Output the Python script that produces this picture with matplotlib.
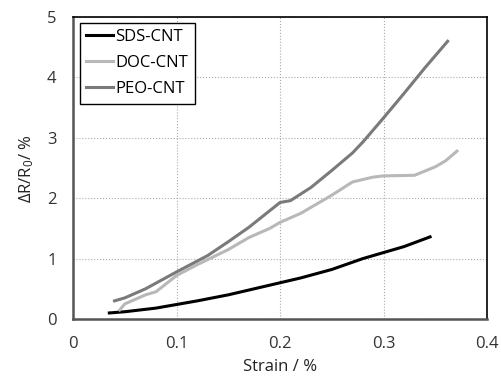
import matplotlib
matplotlib.use("Agg")
import matplotlib.pyplot as plt

plt.rcParams['font.family'] = ['Open Sans', 'DejaVu Sans']
plt.rcParams['mathtext.fontset'] = 'custom'
plt.rcParams['mathtext.rm'] = 'Open Sans'
plt.rcParams['mathtext.it'] = 'Open Sans'

sds_x = [0.035, 0.05, 0.08, 0.10, 0.12, 0.15, 0.18, 0.20, 0.22, 0.25, 0.28, 0.30, 0.32, 0.345]
sds_y = [0.10, 0.12, 0.18, 0.24, 0.30, 0.40, 0.52, 0.60, 0.68, 0.82, 1.00, 1.10, 1.20, 1.36]

doc_x = [0.045, 0.05, 0.07, 0.08, 0.10, 0.12, 0.15, 0.17, 0.19, 0.20, 0.22, 0.25, 0.27, 0.29, 0.30, 0.33, 0.35, 0.36, 0.371]
doc_y = [0.15, 0.25, 0.40, 0.45, 0.72, 0.90, 1.15, 1.35, 1.50, 1.60, 1.75, 2.05, 2.27, 2.35, 2.37, 2.38, 2.52, 2.62, 2.78]

peo_x = [0.04, 0.05, 0.07, 0.10, 0.13, 0.15, 0.17, 0.20, 0.21, 0.23, 0.25, 0.27, 0.28, 0.30, 0.32, 0.34, 0.362]
peo_y = [0.30, 0.35, 0.50, 0.78, 1.05, 1.28, 1.52, 1.93, 1.96, 2.18, 2.46, 2.75, 2.93, 3.33, 3.74, 4.16, 4.60]

xticks = [0, 0.1, 0.2, 0.3, 0.4]
yticks = [0, 1, 2, 3, 4, 5]

fig = plt.figure(figsize=(5.01, 3.89), dpi=100)
ax = fig.add_axes([0.146, 0.18, 0.826, 0.776])

ax.plot(sds_x, sds_y, color='#000000', lw=2.2, label='SDS-CNT')
ax.plot(doc_x, doc_y, color='#b8b8b8', lw=2.2, label='DOC-CNT')
ax.plot(peo_x, peo_y, color='#7a7a7a', lw=2.2, label='PEO-CNT')

ax.set_xlim(0, 0.4)
ax.set_ylim(0, 5)
ax.set_xticks(xticks)
ax.set_xticklabels(['0', '0.1', '0.2', '0.3', '0.4'])
ax.set_yticks(yticks)
ax.tick_params(length=0, labelsize=12, pad=12, colors='#333333')
ax.grid(True, color='#aaaaaa', linestyle=':', linewidth=0.8)
for s in ['top', 'right']:
    ax.spines[s].set_color('#000000')
    ax.spines[s].set_linewidth(1.2)
for s in ['left', 'bottom']:
    ax.spines[s].set_color('#555555')
    ax.spines[s].set_linewidth(1.8)

ax.set_xlabel('Strain / %', fontsize=12, labelpad=5, color='#222222')
ax.set_ylabel(r'$\Delta$R/R$_0$/ %', fontsize=12, labelpad=8, color='#222222')

leg = ax.legend(loc='upper left', fontsize=12, handlelength=1.6, handletextpad=0.15,
                fancybox=False, edgecolor='#000000', framealpha=1,
                borderpad=0.4, labelspacing=0.6, borderaxespad=0,
                bbox_to_anchor=(0.016, 0.982))
leg.get_frame().set_linewidth(1.0)

fig.savefig('out.png', dpi=100)
